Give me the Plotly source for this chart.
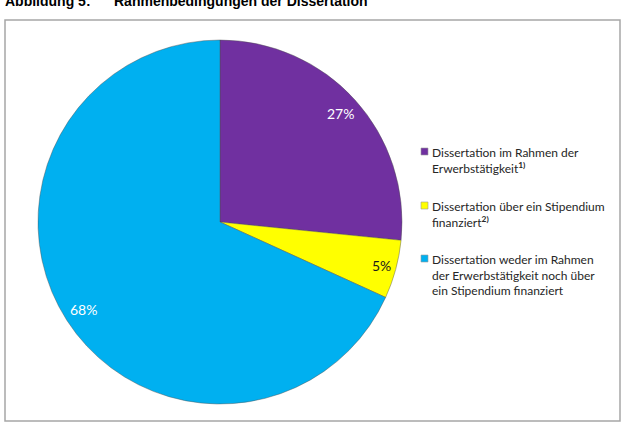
import math
import plotly.graph_objects as go

# ---- data ----
labels = [
    "Dissertation im Rahmen der<br>Erwerbstätigkeit<sup><b>1)</b></sup>",
    "Dissertation über ein Stipendium<br>finanziert<sup><b>2)</b></sup>",
    "Dissertation weder im Rahmen<br>der Erwerbstätigkeit noch über<br>ein Stipendium finanziert",
]
values = [26.6, 5.2, 68.2]
colors = ["#7030A0", "#FFFF00", "#00B0F0"]
label_colors = ["#FFFFFF", "#1a1a1a", "#FFFFFF"]
title_left = "Abbildung 5:"
title_right = "Rahmenbedingungen der Dissertation"

W, H = 622, 430
def px(x):
    return x / W
def py(y):
    return 1 - y / H

# pie geometry (pixels)
cx, cy, R = 220, 222, 182

fig = go.Figure()
fig.add_trace(go.Pie(
    labels=labels,
    values=values,
    sort=False,
    direction="clockwise",
    rotation=0,
    textinfo="none",
    hoverinfo="label+percent",
    marker=dict(colors=colors, line=dict(color="rgba(80,80,80,0.55)", width=0.8)),
    domain=dict(x=[px(cx - R), px(cx + R)], y=[py(cy + R), py(cy - R)]),
    showlegend=False,
))

annotations = []
shapes = []

# frame
shapes.append(dict(type="rect", xref="paper", yref="paper",
                   x0=px(5), x1=px(620), y0=py(421), y1=py(20),
                   line=dict(color="#a6a6a6", width=1.5), layer="below"))

# percentage labels, placed along each slice bisector
total = sum(values)
cum = 0.0
label_r = [0.89, 0.92, 0.89]
for i, v in enumerate(values):
    mid = (cum + v / 2) / total * 2 * math.pi
    cum += v
    lx = cx + label_r[i] * R * math.sin(mid)
    ly = cy - label_r[i] * R * math.cos(mid)
    annotations.append(dict(
        x=px(lx), y=py(ly), xref="paper", yref="paper",
        text=f"{round(v / total * 100)}%", showarrow=False,
        xanchor="center", yanchor="middle",
        font=dict(family="Lato", size=14, color=label_colors[i]),
    ))

# legend (manual)
leg_y = [145, 199, 252]
for i, lab in enumerate(labels):
    y0 = leg_y[i]
    shapes.append(dict(type="rect", xref="paper", yref="paper",
                       x0=px(421), x1=px(428), y0=py(y0 + 10), y1=py(y0 + 3),
                       fillcolor=colors[i], line=dict(color="#9a9a9a", width=0.6)))
    annotations.append(dict(
        x=px(430), y=py(y0 - 2), xref="paper", yref="paper",
        text=lab, showarrow=False, align="left",
        xanchor="left", yanchor="top",
        font=dict(family="Lato", size=12, color="#262626"),
    ))

# title (cut off at top, as in reference)
annotations.append(dict(x=px(3), y=py(1), xref="paper", yref="paper",
                        text=f"<b>{title_left}</b>", showarrow=False,
                        xanchor="left", yanchor="middle",
                        font=dict(family="Liberation Sans", size=14, color="#000000")))
annotations.append(dict(x=px(112), y=py(1), xref="paper", yref="paper",
                        text=f"<b>{title_right}</b>", showarrow=False,
                        xanchor="left", yanchor="middle",
                        font=dict(family="Liberation Sans", size=14, color="#000000")))

fig.update_layout(
    width=W, height=H,
    margin=dict(l=0, r=0, t=0, b=0),
    paper_bgcolor="white", plot_bgcolor="white",
    annotations=annotations, shapes=shapes,
)

fig.write_html("out.html")
